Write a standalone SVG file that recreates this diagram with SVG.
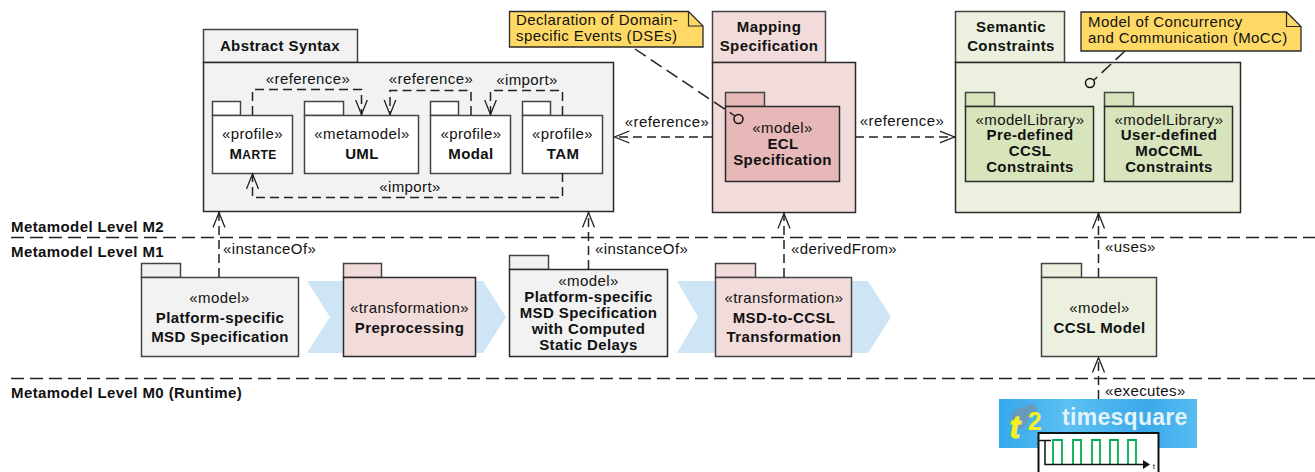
<svg xmlns="http://www.w3.org/2000/svg" width="1315" height="472" viewBox="0 0 1315 472">
<style>
text{font-family:"Liberation Sans",Arial,sans-serif;font-size:15px;fill:#111;text-anchor:middle;letter-spacing:.4px}
.b{font-weight:bold}
.l{text-anchor:start}
.pk{stroke:#2a2a2a;stroke-width:1.5}
.tab{stroke:#444;stroke-width:1.5}
.g{fill:#f2f2f2}.r{fill:#f2dcdb}.rd{fill:#e6b8b7}.v{fill:#ebf1de}.vd{fill:#d8e4bc}.w{fill:#fff}
.note{fill:#ffd966;stroke:#2a2a2a;stroke-width:1.3}
.c{fill:none;stroke:#222;stroke-width:1.5;stroke-dasharray:9 5}
.n{stroke-dasharray:13 6}
.a{marker-end:url(#open)}
.lvl{fill:none;stroke:#222;stroke-width:1.5;stroke-dasharray:13 6}
.chev{fill:#cde5f5}
</style>
<defs>
<marker id="open" markerUnits="userSpaceOnUse" markerWidth="20" markerHeight="16" refX="15.5" refY="7" orient="auto">
<path d="M0 1L15 7L0 13" fill="none" stroke="#222" stroke-width="1.3"/>
</marker>
<linearGradient id="sky" x1="0" y1="0" x2="1" y2="0"><stop offset="0" stop-color="#35a8ec"/><stop offset=".35" stop-color="#5cc0f3"/><stop offset=".75" stop-color="#3aa9ea"/><stop offset="1" stop-color="#57bdf1"/></linearGradient>
</defs>

<polygon class="chev" points="307,281 483,281 506,317 483,353 307,353 330,317"/>
<polygon class="chev" points="677,281 868,281 891,317 868,353 677,353 698,317"/>

<g id="abstract-syntax">
<rect class="g tab" x="203.500" y="29.500" width="154" height="33"/>
<rect class="g pk" x="203.500" y="62.500" width="410" height="149"/>
<text class="b" x="280" y="51">Abstract Syntax</text>
</g>
<g id="marte">
<rect class="w tab" x="212.500" y="101.500" width="28" height="14"/>
<rect class="w tab" x="212.500" y="115.500" width="80" height="58"/>
<text x="252.500" y="139">«profile»</text>
<text class="b" x="253" y="159">M<tspan font-size="12">ARTE</tspan></text>
</g>
<g id="uml">
<rect class="w tab" x="304.500" y="101.500" width="39" height="14"/>
<rect class="w tab" x="304.500" y="115.500" width="114" height="58"/>
<text x="362" y="139">«metamodel»</text>
<text class="b" x="362" y="159">UML</text>
</g>
<g id="modal">
<rect class="w tab" x="430.500" y="101.500" width="28" height="14"/>
<rect class="w tab" x="430.500" y="115.500" width="80" height="58"/>
<text x="471" y="139">«profile»</text>
<text class="b" x="471" y="159">Modal</text>
</g>
<g id="tam">
<rect class="w tab" x="522.500" y="101.500" width="28" height="14"/>
<rect class="w tab" x="522.500" y="115.500" width="80" height="58"/>
<text x="562.500" y="139">«profile»</text>
<text class="b" x="563" y="159">TAM</text>
</g>

<g id="mapping-specification">
<rect class="r tab" x="712.500" y="11.500" width="113" height="51"/>
<rect class="r pk" x="712.500" y="62.500" width="143" height="150"/>
<text class="b" x="769" y="32">Mapping</text>
<text class="b" x="769" y="51">Specification</text>
</g>
<g id="ecl-specification">
<rect class="rd tab" x="725.500" y="92.500" width="39" height="14"/>
<rect class="rd pk" x="725.500" y="106.500" width="114" height="75"/>
<text x="782.500" y="133">«model»</text>
<text class="b" x="783" y="149">ECL</text>
<text class="b" x="782.500" y="165">Specification</text>
</g>

<g id="semantic-constraints">
<rect class="v tab" x="955.500" y="11.500" width="109" height="51"/>
<rect class="v pk" x="955.500" y="62.500" width="285" height="150"/>
<text class="b" x="1011" y="32">Semantic</text>
<text class="b" x="1011" y="51">Constraints</text>
</g>
<g id="predefined-ccsl">
<rect class="vd tab" x="965.500" y="92.500" width="29" height="14"/>
<rect class="vd pk" x="965.500" y="106.500" width="128" height="75"/>
<text x="1030" y="125">«modelLibrary»</text>
<text class="b" x="1030" y="140">Pre-defined</text>
<text class="b" x="1030" y="156">CCSL</text>
<text class="b" x="1030" y="172">Constraints</text>
</g>
<g id="userdefined-moccml">
<rect class="vd tab" x="1104.500" y="92.500" width="29" height="14"/>
<rect class="vd pk" x="1104.500" y="106.500" width="128" height="75"/>
<text x="1169" y="125">«modelLibrary»</text>
<text class="b" x="1169" y="140">User-defined</text>
<text class="b" x="1169" y="156">MoCCML</text>
<text class="b" x="1169" y="172">Constraints</text>
</g>

<g id="note-dse">
<path class="note" d="M509.500 11.500H688.500L703 26V47H509.500Z"/>
<path d="M688.500 11.500V26H703" fill="none" stroke="#2a2a2a" stroke-width="1.2"/>
<text class="l" x="516" y="25">Declaration of Domain-</text>
<text class="l" x="516" y="41">specific Events (DSEs)</text>
</g>
<g id="note-mocc">
<path class="note" d="M1081 12H1286.500L1301 26.500V51H1081Z"/>
<path d="M1286.500 12V26.500H1301" fill="none" stroke="#2a2a2a" stroke-width="1.2"/>
<text class="l" x="1088" y="27">Model of Concurrency</text>
<text class="l" x="1088" y="43">and Communication (MoCC)</text>
</g>

<g id="platform-msd">
<rect class="g tab" x="141.500" y="263.500" width="39" height="14"/>
<rect class="g tab" x="141.500" y="277.500" width="157" height="79"/>
<text x="219.500" y="303">«model»</text>
<text class="b" x="220" y="323">Platform-specific</text>
<text class="b" x="220" y="342">MSD Specification</text>
</g>
<g id="preprocessing">
<rect class="r tab" x="343.500" y="263.500" width="38" height="14"/>
<rect class="r pk" x="343.500" y="277.500" width="132" height="79"/>
<text x="409.500" y="313">«transformation»</text>
<text class="b" x="409.500" y="333">Preprocessing</text>
</g>
<g id="platform-msd-delays">
<rect class="g tab" x="509.500" y="255.500" width="39" height="14"/>
<rect class="g pk" x="509.500" y="269.500" width="158" height="87"/>
<text x="588.500" y="286">«model»</text>
<text class="b" x="588.500" y="302">Platform-specific</text>
<text class="b" x="588.500" y="318">MSD Specification</text>
<text class="b" x="588.500" y="334">with Computed</text>
<text class="b" x="588.500" y="350">Static Delays</text>
</g>
<g id="msd-to-ccsl">
<rect class="r tab" x="715.500" y="263.500" width="40" height="14"/>
<rect class="r tab" x="715.500" y="277.500" width="136" height="79"/>
<text x="784" y="303">«transformation»</text>
<text class="b" x="784" y="323">MSD-to-CCSL</text>
<text class="b" x="784" y="342">Transformation</text>
</g>
<g id="ccsl-model">
<rect class="v tab" x="1041.500" y="263.500" width="40" height="14"/>
<rect class="v tab" x="1041.500" y="277.500" width="115" height="79"/>
<text x="1099.500" y="313">«model»</text>
<text class="b" x="1099.500" y="333">CCSL Model</text>
</g>

<g id="timesquare">
<rect x="999" y="399" width="198" height="49" fill="url(#sky)"/>
<ellipse cx="1020" cy="418" rx="9" ry="11" fill="#7d8fa0" opacity=".65" transform="rotate(25 1020 418)"/>
<ellipse cx="1031" cy="409" rx="6" ry="5" fill="#7d8fa0" opacity=".65"/>
<text x="1062" y="425" style="font-size:23px;font-weight:bold;fill:#e4f3fb;text-anchor:start;letter-spacing:.3px">timesquare</text>
<text x="1015" y="438" style="font-size:31px;font-weight:bold;font-style:italic;fill:#f6f01e;stroke:#f6f01e;stroke-width:1.2px">t</text>
<text x="1035" y="430" style="font-size:25px;font-weight:bold;fill:#f6f01e">2</text>
<rect x="1038.500" y="433" width="120" height="40" fill="#fff" stroke="#111" stroke-width="2"/>
<path d="M1053 464V440H1062V464M1073 464V440H1081V464M1092 464V440H1100V464M1110 464V440H1118V464M1128 464V440H1136V464" fill="none" stroke="#00b050" stroke-width="1.800"/>
<path d="M1039 440.500H1051M1045 440V464.500H1148" fill="none" stroke="#111" stroke-width="1.500"/>
<path d="M1143 460L1150 464.500L1143 469Z" fill="#111"/>
<text x="1154" y="469" style="font-size:8px">t</text>
</g>

<g id="levels">
<path class="lvl" d="M11 237.500H1315"/>
<path class="lvl" d="M11 378.500H1315"/>
<text class="b l" x="11" y="232">Metamodel Level M2</text>
<text class="b l" x="11" y="257">Metamodel Level M1</text>
<text class="b l" x="11" y="398">Metamodel Level M0 (Runtime)</text>
</g>

<g id="connectors">
<path class="c a" d="M252.500 115V89.500H361.500V115"/>
<path class="c a" d="M471 115V90.500H390V115"/>
<path class="c a" d="M562.500 115V90.500H490.500V115"/>
<path class="c a" d="M562.500 173V197.500H252.500V173.500"/>
<path class="c a" d="M712 137H614"/>
<path class="c a" d="M855 137H955"/>
<path class="c a" d="M219 277V212"/>
<path class="c a" d="M588.500 269V212"/>
<path class="c a" d="M784 277V213"/>
<path class="c a" d="M1098.500 277V213"/>
<path class="c a" d="M1098.500 399V357"/>
<path class="c n" d="M635 49L735 116"/>
<circle cx="738.500" cy="119" r="4.500" fill="none" stroke="#111" stroke-width="1.500"/>
<path class="c n" d="M1125 51L1094 80"/>
<circle cx="1090" cy="83" r="4.500" fill="none" stroke="#111" stroke-width="1.500"/>
<text x="308" y="84">«reference»</text>
<text x="431" y="84">«reference»</text>
<text x="527" y="85">«import»</text>
<text x="410" y="192">«import»</text>
<text x="667" y="127">«reference»</text>
<text x="902" y="126">«reference»</text>
<text class="l" x="223" y="254">«instanceOf»</text>
<text class="l" x="595" y="254">«instanceOf»</text>
<text class="l" x="791" y="254">«derivedFrom»</text>
<text class="l" x="1105" y="252">«uses»</text>
<text class="l" x="1105" y="396">«executes»</text>
</g>
</svg>
